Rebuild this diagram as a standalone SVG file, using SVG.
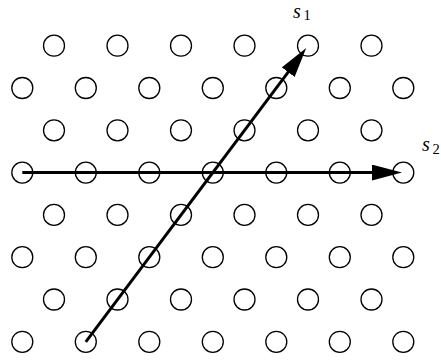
<svg xmlns="http://www.w3.org/2000/svg" width="441" height="363" viewBox="0 0 441 363">
<style>
.n circle{fill:none;stroke:#000;stroke-width:1.3}
.c line{stroke:#000;stroke-width:3;fill:none}
.lbl{font-family:"Liberation Serif","DejaVu Serif",serif;font-style:italic;font-size:20px;fill:#000}
.sub{font-family:"Liberation Serif","DejaVu Serif",serif;font-style:normal;font-size:14.5px;fill:#000}
</style>
<defs>
<marker id="ah" viewBox="0 0 30 16" refX="10" refY="8" markerWidth="30" markerHeight="16" markerUnits="userSpaceOnUse" orient="auto">
<path d="M0,0 L30,8 L0,16 z" fill="#000"/>
</marker>
</defs>
<g class="n">
<g id="r1c1"><circle cx="54" cy="45.7" r="10.5"/></g>
<g id="r1c2"><circle cx="117.5" cy="45.7" r="10.5"/></g>
<g id="r1c3"><circle cx="181" cy="45.7" r="10.5"/></g>
<g id="r1c4"><circle cx="244.5" cy="45.7" r="10.5"/></g>
<g id="r1c5"><circle cx="308" cy="45.7" r="10.5"/></g>
<g id="r1c6"><circle cx="371.5" cy="45.7" r="10.5"/></g>
<g id="r2c1"><circle cx="22.3" cy="88" r="10.5"/></g>
<g id="r2c2"><circle cx="85.8" cy="88" r="10.5"/></g>
<g id="r2c3"><circle cx="149.3" cy="88" r="10.5"/></g>
<g id="r2c4"><circle cx="212.8" cy="88" r="10.5"/></g>
<g id="r2c5"><circle cx="276.3" cy="88" r="10.5"/></g>
<g id="r2c6"><circle cx="339.8" cy="88" r="10.5"/></g>
<g id="r2c7"><circle cx="403.3" cy="88" r="10.5"/></g>
<g id="r3c1"><circle cx="54" cy="130.3" r="10.5"/></g>
<g id="r3c2"><circle cx="117.5" cy="130.3" r="10.5"/></g>
<g id="r3c3"><circle cx="181" cy="130.3" r="10.5"/></g>
<g id="r3c4"><circle cx="244.5" cy="130.3" r="10.5"/></g>
<g id="r3c5"><circle cx="308" cy="130.3" r="10.5"/></g>
<g id="r3c6"><circle cx="371.5" cy="130.3" r="10.5"/></g>
<g id="r4c1"><circle cx="22.3" cy="172.6" r="10.5"/></g>
<g id="r4c2"><circle cx="85.8" cy="172.6" r="10.5"/></g>
<g id="r4c3"><circle cx="149.3" cy="172.6" r="10.5"/></g>
<g id="r4c4"><circle cx="212.8" cy="172.6" r="10.5"/></g>
<g id="r4c5"><circle cx="276.3" cy="172.6" r="10.5"/></g>
<g id="r4c6"><circle cx="339.8" cy="172.6" r="10.5"/></g>
<g id="r4c7"><circle cx="403.3" cy="172.6" r="10.5"/></g>
<g id="r5c1"><circle cx="54" cy="214.9" r="10.5"/></g>
<g id="r5c2"><circle cx="117.5" cy="214.9" r="10.5"/></g>
<g id="r5c3"><circle cx="181" cy="214.9" r="10.5"/></g>
<g id="r5c4"><circle cx="244.5" cy="214.9" r="10.5"/></g>
<g id="r5c5"><circle cx="308" cy="214.9" r="10.5"/></g>
<g id="r5c6"><circle cx="371.5" cy="214.9" r="10.5"/></g>
<g id="r6c1"><circle cx="22.3" cy="257.2" r="10.5"/></g>
<g id="r6c2"><circle cx="85.8" cy="257.2" r="10.5"/></g>
<g id="r6c3"><circle cx="149.3" cy="257.2" r="10.5"/></g>
<g id="r6c4"><circle cx="212.8" cy="257.2" r="10.5"/></g>
<g id="r6c5"><circle cx="276.3" cy="257.2" r="10.5"/></g>
<g id="r6c6"><circle cx="339.8" cy="257.2" r="10.5"/></g>
<g id="r6c7"><circle cx="403.3" cy="257.2" r="10.5"/></g>
<g id="r7c1"><circle cx="54" cy="299.5" r="10.5"/></g>
<g id="r7c2"><circle cx="117.5" cy="299.5" r="10.5"/></g>
<g id="r7c3"><circle cx="181" cy="299.5" r="10.5"/></g>
<g id="r7c4"><circle cx="244.5" cy="299.5" r="10.5"/></g>
<g id="r7c5"><circle cx="308" cy="299.5" r="10.5"/></g>
<g id="r7c6"><circle cx="371.5" cy="299.5" r="10.5"/></g>
<g id="r8c1"><circle cx="22.3" cy="341.8" r="10.5"/></g>
<g id="r8c2"><circle cx="85.8" cy="341.8" r="10.5"/></g>
<g id="r8c3"><circle cx="149.3" cy="341.8" r="10.5"/></g>
<g id="r8c4"><circle cx="212.8" cy="341.8" r="10.5"/></g>
<g id="r8c5"><circle cx="276.3" cy="341.8" r="10.5"/></g>
<g id="r8c6"><circle cx="339.8" cy="341.8" r="10.5"/></g>
<g id="r8c7"><circle cx="403.3" cy="341.8" r="10.5"/></g>
</g>
<g id="connectors" class="c">
<line id="s2arrow" x1="22.3" y1="172.6" x2="382" y2="172.6" marker-end="url(#ah)"/>
<line id="s1arrow" x1="85.8" y1="341.8" x2="294.2" y2="64.1" marker-end="url(#ah)"/>
</g>
<g id="labels">
<text class="lbl" x="293" y="18">s<tspan class="sub" x="303.5" y="20">1</tspan></text>
<text class="lbl" x="422" y="151">s<tspan class="sub" x="432.5" y="153.5">2</tspan></text>
</g>
</svg>
